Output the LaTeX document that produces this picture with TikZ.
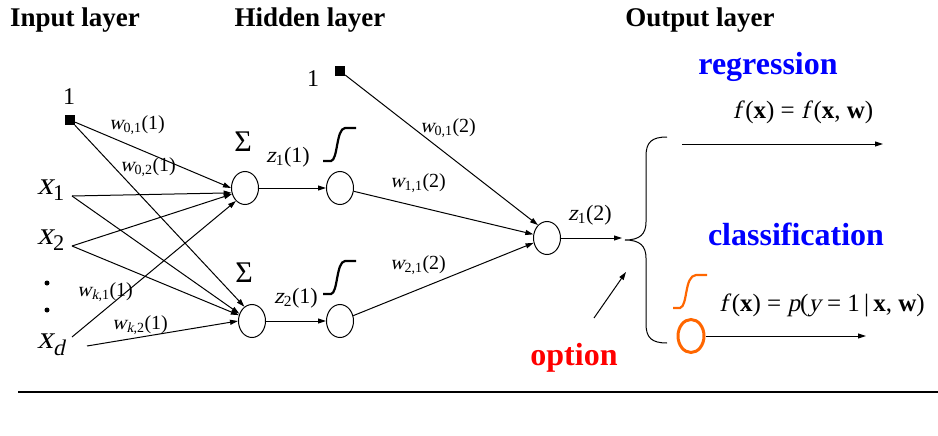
\documentclass[tikz,border=0pt]{standalone}
\usepackage{fontspec}
\setmainfont{Liberation Serif}
\newfontfamily\slantfont{Liberation Serif}[FakeSlant=0.22]
\usetikzlibrary{arrows.meta,shapes.geometric}
\definecolor{myblue}{RGB}{0,0,255}
\definecolor{myred}{RGB}{255,0,0}
\definecolor{myorange}{RGB}{255,102,0}
\newcommand\vi[1]{{\slantfont #1}}
\newcommand\wlab[2]{\vi{w}\textsubscript{#1}(#2)}
\newcommand\zlab[2]{\vi{z}\textsubscript{#1}(#2)}
\newcommand\eqsp{\hspace{0.25em}=\hspace{0.25em}}
\tikzset{
  neuron/.style={ellipse,draw,line width=1pt,minimum width=27pt,minimum height=33pt,inner sep=0pt},
  arr/.style={line width=1pt,-{Triangle[length=8pt,width=5pt]}},
  plain/.style={line width=1pt},
  title/.style={font=\fontsize{27}{31}\selectfont\bfseries,inner sep=0pt},
  colorlab/.style={font=\fontsize{32}{36}\selectfont\bfseries,inner sep=0pt},
  wl/.style={font=\fontsize{20}{24}\selectfont,inner sep=0pt},
  xl/.style={font=\fontsize{32}{36}\selectfont,inner sep=0pt},
  sig/.style={line width=2.2pt},
  bias/.style={fill=black,minimum size=10pt,inner sep=0pt},
}
\begin{document}
\begin{tikzpicture}[x=1pt,y=-1pt]
\useasboundingbox (0,0) rectangle (938,436);
% titles
\node[title] (tin) at (75,20) {Input layer};
\node[title] (thid) at (310,20) {Hidden layer};
\node[title] (tout) at (700,20) {Output layer};
% input layer
\node[bias] (b1) at (70,120) {};
\node[wl,font=\fontsize{24}{28}\selectfont] (b1l) at (69,97) {1};
\node[xl] (x1) at (51,190) {\vi{x}\textsubscript{1}};
\node[xl] (x2) at (51,240) {\vi{x}\textsubscript{2}};
\node[xl] (xd) at (51,345) {\vi{x}\textsubscript{\vi{d}}};
\node[circle,fill=black,minimum size=5pt,inner sep=0pt] (dot1) at (47,283) {};
\node[circle,fill=black,minimum size=5pt,inner sep=0pt] (dot2) at (47,310) {};
\coordinate (x1s) at (72,196);
\coordinate (x2s) at (72,246);
\coordinate (xds) at (72,337);
\coordinate (xdt) at (87,346);
% hidden neurons
\node[neuron] (h1) at (245,188) {};
\node[neuron] (h2) at (252,321) {};
\node[neuron] (s1) at (340,188) {};
\node[neuron] (s2) at (340,321) {};
\node[font=\fontsize{30}{34}\selectfont,inner sep=0pt] (sum1) at (243,142) {Σ};
\node[font=\fontsize{30}{34}\selectfont,inner sep=0pt] (sum2) at (244,273) {Σ};
% input -> hidden
\draw[arr] (b1) -- (h1.180);
\draw[arr] (b1) -- (h2.118);
\draw[arr] (x1s) -- (h1.200);
\draw[arr] (x1s) -- (h2.150);
\draw[arr] (x2s) -- (h1.205);
\draw[arr] (x2s) -- (h2.156);
\draw[arr] (xds) -- (h1.235);
\draw[arr] (xdt) -- (h2.180);
\node[wl] (w011) at (137,125) {\wlab{0,1}{1}};
\node[wl] (w021) at (148,167) {\wlab{0,2}{1}};
\node[wl] (wk11) at (105,292) {\wlab{\vi{k},1}{1}};
\node[wl] (wk21) at (140,325) {\wlab{\vi{k},2}{1}};
% hidden sum -> sigmoid
\draw[arr] (h1) -- (s1);
\draw[arr] (h2) -- (s2);
\node[wl,font=\fontsize{22}{26}\selectfont] (z11) at (288,157) {\zlab{1}{1}};
\node[wl,font=\fontsize{22}{26}\selectfont] (z21) at (296,298) {\zlab{2}{1}};
\draw[sig] (323,161) -- (331,161) .. controls (338,160) and (336,129) .. (345,128) -- (356,128);
\draw[sig] (323,294) -- (331,294) .. controls (338,293) and (336,262) .. (345,261) -- (356,261);
% output neuron
\node[neuron] (o) at (547,238) {};
\node[bias] (b2) at (340,71) {};
\node[wl,font=\fontsize{24}{28}\selectfont] (b2l) at (313,79) {1};
\draw[arr] (b2) -- (o.125);
\draw[arr] (s1) -- (o.165);
\draw[arr] (s2) -- (o.200);
\node[wl] (w012) at (448,128) {\wlab{0,1}{2}};
\node[wl] (w112) at (418,183) {\wlab{1,1}{2}};
\node[wl] (w212) at (418,265) {\wlab{2,1}{2}};
\node[wl,font=\fontsize{22}{26}\selectfont] (z12) at (590,215) {\zlab{1}{2}};
\coordinate (tip) at (625,240);
\coordinate (oend) at (622,238);
\draw[arr] (o) -- (oend);
% brace
\draw[plain] (667,137) .. controls (652,137) and (646,142) .. (646,156)
  -- (646,222) .. controls (646,234) and (640,240) .. (tip)
  .. controls (640,240) and (646,246) .. (646,258)
  -- (646,324) .. controls (646,338) and (652,343) .. (667,343);
% outputs
\node[colorlab,text=myblue] (reg) at (768,67) {regression};
\node[wl,font=\fontsize{25}{29}\selectfont] (freg) at (803,112) {\vi{f}\,(\textbf{x})\eqsp\vi{f}\,(\textbf{x}, \textbf{w})};
\coordinate (regs) at (682,144);
\coordinate (rege) at (883,144);
\draw[arr] (regs) -- (rege);
\node[colorlab,text=myblue] (cls) at (796,234) {classification};
\node[wl,font=\fontsize{25}{29}\selectfont] (fcls) at (822,305) {\vi{f}\,(\textbf{x})\eqsp\vi{p}(\vi{y}\eqsp1\,|\,\textbf{x}, \textbf{w})};
\draw[sig,myorange] (673,308) -- (680,308) .. controls (688,306) and (684,276) .. (696,275) -- (707,275);
\node[ellipse,draw=myorange,line width=3pt,minimum width=26pt,minimum height=33pt,inner sep=0pt] (oc) at (691,336) {};
\coordinate (clse) at (866,336);
\draw[arr] (oc.east) -- (clse);
% option
\node[colorlab,text=myred] (opt) at (574,358) {option};
\coordinate (opts) at (594,318);
\coordinate (opte) at (626,272);
\draw[arr] (opts) -- (opte);
% rule
\coordinate (r1) at (18,392);
\coordinate (r2) at (938,392);
\draw[line width=1.3pt] (r1) -- (r2);
\end{tikzpicture}
\end{document}
